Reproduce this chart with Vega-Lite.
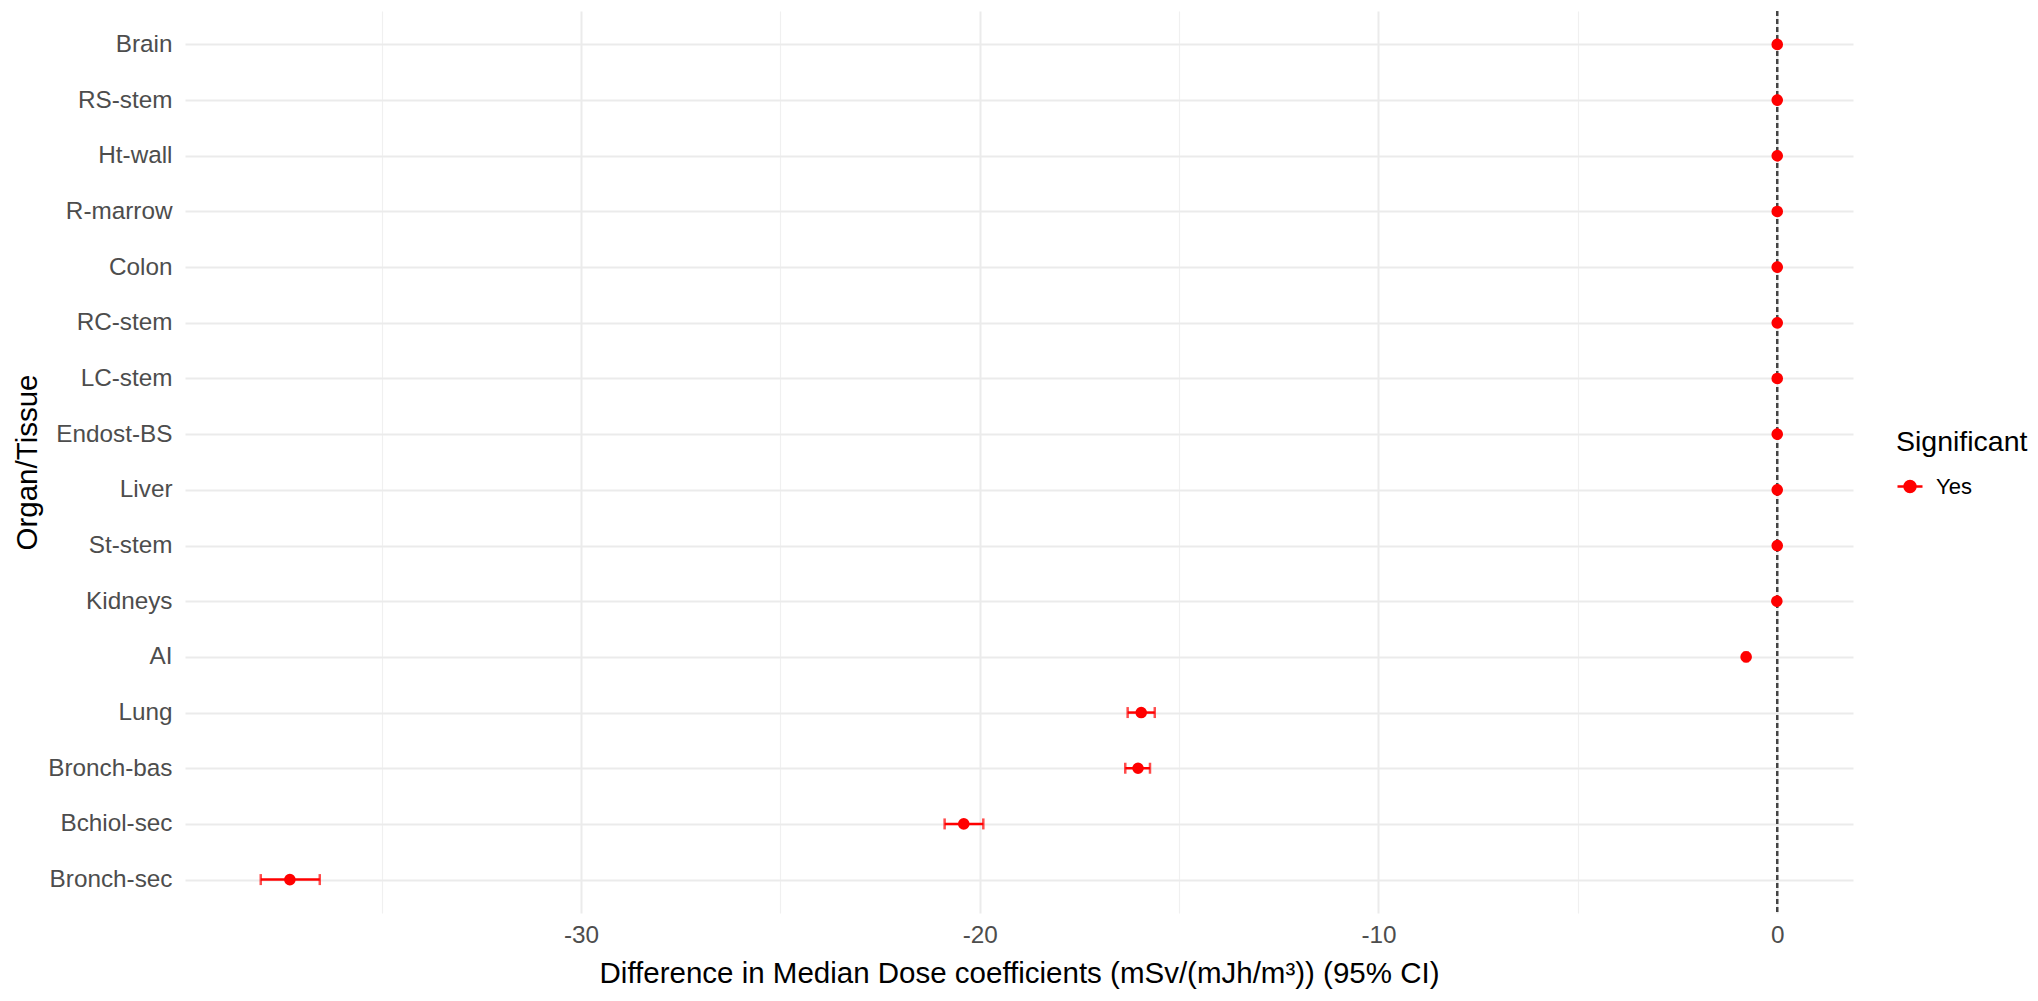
{
  "$schema": "https://vega.github.io/schema/vega-lite/v6.json",
  "autosize": {"type": "none"},
  "width": 1668,
  "height": 902,
  "padding": {"left": 185, "top": 11, "right": 185, "bottom": 88},
  "background": "white",
  "config": {
    "view": {"stroke": null},
    "font": "Liberation Sans"
  },
  "data": {
    "values": [
      {"organ": "Brain", "diff": 0.0, "lo": -0.01, "hi": 0.01, "Significant": "Yes"},
      {"organ": "RS-stem", "diff": 0.0, "lo": -0.01, "hi": 0.01, "Significant": "Yes"},
      {"organ": "Ht-wall", "diff": 0.0, "lo": -0.01, "hi": 0.01, "Significant": "Yes"},
      {"organ": "R-marrow", "diff": 0.0, "lo": -0.01, "hi": 0.01, "Significant": "Yes"},
      {"organ": "Colon", "diff": 0.0, "lo": -0.01, "hi": 0.01, "Significant": "Yes"},
      {"organ": "RC-stem", "diff": 0.0, "lo": -0.01, "hi": 0.01, "Significant": "Yes"},
      {"organ": "LC-stem", "diff": 0.0, "lo": -0.01, "hi": 0.01, "Significant": "Yes"},
      {"organ": "Endost-BS", "diff": 0.0, "lo": -0.01, "hi": 0.01, "Significant": "Yes"},
      {"organ": "Liver", "diff": 0.0, "lo": -0.01, "hi": 0.01, "Significant": "Yes"},
      {"organ": "St-stem", "diff": 0.0, "lo": -0.01, "hi": 0.01, "Significant": "Yes"},
      {"organ": "Kidneys", "diff": -0.01, "lo": -0.02, "hi": 0.0, "Significant": "Yes"},
      {"organ": "AI", "diff": -0.78, "lo": -0.82, "hi": -0.74, "Significant": "Yes"},
      {"organ": "Lung", "diff": -15.95, "lo": -16.29, "hi": -15.61, "Significant": "Yes"},
      {"organ": "Bronch-bas", "diff": -16.03, "lo": -16.35, "hi": -15.73, "Significant": "Yes"},
      {"organ": "Bchiol-sec", "diff": -20.4, "lo": -20.88, "hi": -19.91, "Significant": "Yes"},
      {"organ": "Bronch-sec", "diff": -37.3, "lo": -38.03, "hi": -36.55, "Significant": "Yes"}
    ]
  },
  "encoding": {
    "y": {
      "field": "organ",
      "type": "nominal",
      "sort": ["Brain", "RS-stem", "Ht-wall", "R-marrow", "Colon", "RC-stem", "LC-stem", "Endost-BS", "Liver", "St-stem", "Kidneys", "AI", "Lung", "Bronch-bas", "Bchiol-sec", "Bronch-sec"],
      "scale": {"type": "point", "padding": 0.6},
      "axis": {
        "title": "Organ/Tissue",
        "titleFontSize": 29.5,
        "titleFontWeight": "normal",
        "titleColor": "#000000",
        "titleX": -158,
        "titleY": 451,
        "titleAngle": -90,
        "titleAlign": "center",
        "titleBaseline": "middle",
        "labelFontSize": 24.3,
        "labelColor": "#4D4D4D",
        "labelPadding": 13,
        "domain": false,
        "ticks": false,
        "grid": true,
        "gridColor": "#EBEBEB",
        "gridWidth": 2
      }
    }
  },
  "layer": [
    {
      "mark": {"type": "rule", "color": "#444444", "strokeWidth": 1.6, "strokeDash": [5, 3]},
      "encoding": {
        "x": {"datum": 0, "type": "quantitative"},
        "y": null
      }
    },
    {
      "mark": {"type": "rule", "color": "#FF0000", "strokeWidth": 2.5},
      "encoding": {
        "x": {
          "field": "lo",
          "type": "quantitative",
          "scale": {"domain": [-39.93, 1.9], "nice": false, "zero": false},
          "axis": {
            "values": [-35, -30, -25, -20, -15, -10, -5, 0],
            "labelExpr": "datum.value % 10 === 0 ? '' + datum.value : ''",
            "title": "Difference in Median Dose coefficients (mSv/(mJh/m³)) (95% CI)",
            "titleFontSize": 29.5,
            "titleFontWeight": "normal",
            "titleColor": "#000000",
            "titlePadding": 12,
            "labelFontSize": 24.3,
            "labelColor": "#4D4D4D",
            "labelPadding": 10,
            "domain": false,
            "ticks": false,
            "grid": true,
            "gridColor": {"condition": {"test": "datum.value % 10 !== 0", "value": "#F0F0F0"}, "value": "#EBEBEB"},
            "gridWidth": {"condition": {"test": "datum.value % 10 !== 0", "value": 1.2}, "value": 2}
          }
        },
        "x2": {"field": "hi"}
      }
    },
    {
      "mark": {"type": "tick", "color": "#FF0000", "size": 11, "thickness": 2.5, "orient": "vertical"},
      "encoding": {"x": {"field": "lo", "type": "quantitative"}}
    },
    {
      "mark": {"type": "tick", "color": "#FF0000", "size": 11, "thickness": 2.5, "orient": "vertical"},
      "encoding": {"x": {"field": "hi", "type": "quantitative"}}
    },
    {
      "mark": {"type": "point", "filled": true, "size": 135, "opacity": 1, "strokeWidth": 0},
      "encoding": {
        "x": {"field": "diff", "type": "quantitative"},
        "color": {
          "field": "Significant",
          "type": "nominal",
          "scale": {"domain": ["Yes"], "range": ["#FF0000"]},
          "legend": {
            "title": "Significant",
            "titleFontSize": 28.5,
            "titleFontWeight": "normal",
            "titleColor": "#000000",
            "titlePadding": 16,
            "labelFontSize": 22,
            "labelColor": "#000000",
            "orient": "none",
            "legendX": 1711,
            "legendY": 417,
            "symbolType": "M-1,0L1,0M-0.44,0A0.44,0.44 0 1,1 0.44,0A0.44,0.44 0 1,1 -0.44,0Z",
            "symbolSize": 625,
            "symbolFillColor": "#FF0000",
            "symbolStrokeColor": "#FF0000",
            "symbolStrokeWidth": 2.5,
            "symbolOpacity": 1,
            "labelOffset": 12
          }
        }
      }
    }
  ]
}
